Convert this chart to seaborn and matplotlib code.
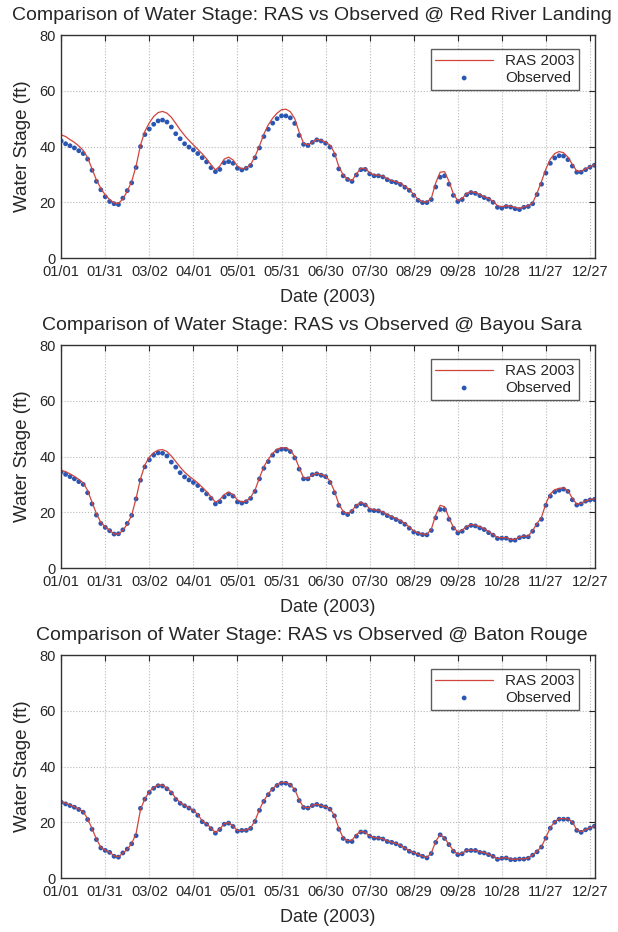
import numpy as np
import pandas as pd
import matplotlib
matplotlib.use("Agg")
import matplotlib.pyplot as plt
import seaborn as sns

# sample days (every 3 days from 01/01/2003)
days = np.arange(0, 364, 3)

tick_days = [0, 30, 60, 90, 120, 150, 180, 210, 240, 270, 300, 330, 360]
tick_labels = ["01/01", "01/31", "03/02", "04/01", "05/01", "05/31", "06/30",
               "07/30", "08/29", "09/28", "10/28", "11/27", "12/27"]

stations = ["Red River Landing", "Bayou Sara", "Baton Rouge"]

# Red River Landing
obs_rrl = [42, 41, 40.3, 39.5, 38.5, 37.5, 35.5, 31.5, 27.5, 24.5, 22, 20.3, 19.5, 19.2, 21.5, 24.2,
           27, 32.5, 40, 44.3, 46.3, 48, 49.2, 49.5, 48.8, 47, 44.6, 42.8, 41, 39.8, 38.8, 37.5,
           36, 34.5, 32.4, 31, 31.8, 34.2, 34.6, 34, 32.2, 31.6, 32.2, 33.2, 36, 39.5, 43.6, 46.2,
           48.4, 50, 51, 51, 50.3, 48.3, 44, 40.8, 40.4, 41.5, 42.4, 42, 41.2, 39.8, 37, 32,
           29.5, 28.2, 27.5, 29.8, 31.7, 31.8, 30.2, 29.5, 29.5, 29.1, 28.1, 27.4, 27.1, 26.4, 25.4, 24.3,
           22.5, 20.7, 19.9, 19.9, 21, 25.5, 29, 29.5, 26.5, 22.5, 20.3, 21, 22.7, 23.5, 23.2, 22.4,
           21.7, 21.1, 20, 18.2, 17.9, 18.5, 18.3, 17.7, 17.4, 18.2, 18.5, 19.5, 22.8, 26.5, 30.5, 34,
           35.9, 36.7, 36.6, 35.3, 33, 30.8, 30.8, 31.7, 32.6, 33.3]
ras_rrl = [44.2, 43.6, 42.5, 41.5, 40.2, 38.6, 36, 32, 28, 25, 22.6, 21, 19.8, 19.6, 21.2, 24,
           27.5, 33, 40.5, 45.5, 48.5, 50.8, 52.2, 52.6, 52, 50.5, 48.3, 46, 44, 42.2, 40.6, 39,
           37.4, 35.6, 33.5, 31.6, 33, 35.5, 36.2, 35.2, 33, 32, 32.4, 33.6, 36.5, 40.2, 44.5, 47.8,
           50.2, 52, 53.2, 53.4, 52.5, 50, 45.2, 41.2, 40.6, 41.6, 42.6, 42.3, 41.6, 40.5, 37.8, 32.8,
           29.8, 28.4, 27.8, 30.2, 32.2, 32.2, 30.6, 29.8, 29.8, 29.4, 28.5, 27.8, 27.4, 26.8, 25.8, 24.6,
           22.8, 21, 20.2, 20.1, 21.5, 27, 30.8, 31, 27.5, 23, 20.6, 21.4, 23.2, 23.8, 23.5, 22.8,
           22, 21.4, 20.4, 18.8, 18.4, 18.8, 18.6, 18.2, 17.8, 18.4, 18.8, 19.8, 23.4, 27.5, 32, 35.5,
           37.5, 38.2, 37.8, 36.2, 33.6, 31.2, 31.2, 32, 32.8, 33.5]

# Bayou Sara
obs_bs = [34.5, 33.6, 32.8, 32, 31, 30, 27, 23, 19, 16, 14.6, 13.4, 12.2, 12.3, 13.7, 16,
          18.9, 24.8, 31.5, 36.3, 38.8, 40.5, 41.3, 41.2, 40.2, 38, 36.2, 34.2, 32.7, 31.6, 30.7, 29.6,
          28, 26.6, 25, 23, 23.8, 25.5, 26.6, 25.8, 23.7, 23.3, 23.8, 25, 27.5, 32, 35.8, 38.2,
          40.5, 42, 42.6, 42.6, 41.8, 39.5, 35.5, 32, 32, 33.5, 33.8, 33.3, 32.8, 30.7, 27, 22.5,
          19.8, 19.2, 20.3, 22.2, 23.1, 22.6, 20.8, 20.6, 20.5, 19.7, 18.8, 18.1, 17.4, 16.6, 15.7, 14.3,
          12.9, 12.4, 12, 11.9, 13.5, 18, 21, 21, 17.5, 14.3, 12.6, 13.2, 14.5, 15.3, 15.1, 14.4,
          13.8, 12.7, 11.8, 10.6, 10.7, 10.7, 10, 10, 10.9, 11.3, 11.2, 13.2, 15.5, 17.5, 22.5, 25.8,
          27.3, 27.9, 28.3, 27.5, 24.5, 22.6, 23, 24, 24.4, 24.6]
ras_bs = [35, 34.6, 33.8, 32.9, 31.8, 30.6, 27.8, 23.6, 19.5, 16.4, 14.8, 13.5, 12.3, 12.2, 13.5, 15.8,
          19, 25, 32, 37, 39.8, 41.4, 42.3, 42.5, 41.8, 40.2, 38.2, 36.2, 34.4, 33, 31.8, 30.5,
          29, 27.4, 25.6, 23.6, 24.5, 26.4, 27.2, 26.4, 24.4, 23.7, 24, 25.4, 28, 32.4, 36.4, 39,
          41.2, 42.6, 43.2, 43.1, 42.3, 40, 36, 32.4, 32.2, 33.4, 34, 33.6, 33, 31.2, 27.6, 23,
          20.2, 19.5, 20.6, 22.6, 23.5, 23, 21.3, 20.9, 20.8, 20.1, 19.2, 18.5, 17.8, 17, 16.1, 14.7,
          13.3, 12.6, 12.2, 12.1, 14, 19, 22.5, 22, 18, 14.6, 13, 13.6, 14.9, 15.6, 15.4, 14.8,
          14.1, 13.1, 12.1, 11, 10.9, 10.9, 10.3, 10.3, 11.1, 11.5, 11.5, 13.5, 16, 18.2, 23.2, 26.6,
          28.1, 28.6, 28.8, 27.8, 25, 22.9, 23.2, 24.1, 24.6, 24.8]

# Baton Rouge
obs_br = [27.2, 26.6, 26, 25.4, 24.6, 23.6, 21, 17.5, 13.8, 10.8, 9.9, 9.2, 7.8, 7.5, 9, 10.4,
          12.3, 15.2, 25, 28.3, 30.7, 32.2, 33.1, 33, 32, 30.5, 28.2, 26.8, 25.9, 25.1, 24.1, 22.5,
          20.2, 19.3, 17.7, 16.1, 17.4, 19.3, 19.7, 18.5, 16.8, 17.1, 17.1, 17.8, 20.3, 24.3, 27.5, 29.9,
          31.8, 33.2, 34, 34, 33.3, 31.6, 27.8, 25.3, 25.1, 26, 26.4, 25.9, 25.5, 24.7, 22.3, 17.5,
          14.2, 13.2, 13.1, 15, 16.5, 16.5, 15, 14.3, 14.3, 14, 13.1, 12.8, 12.3, 11.6, 10.7, 9.6,
          9, 8.4, 7.8, 7.2, 8.8, 12.8, 15.5, 14.2, 12, 9.6, 8.4, 8.7, 9.9, 9.9, 9.9, 9.2,
          9, 8.4, 7.8, 6.7, 7.1, 7.2, 6.6, 6.6, 6.8, 6.8, 7.1, 8.2, 9.4, 11.1, 14.3, 17.9,
          20, 21.1, 21.1, 21.1, 19.9, 17.1, 16.4, 17.3, 17.9, 18.6]
ras_br = [27.5, 26.9, 26.2, 25.6, 24.8, 23.8, 21.3, 17.7, 14, 11, 10, 9.3, 8, 7.6, 8.9, 10.3,
          12.4, 16, 24.6, 28.5, 31, 32.5, 33.4, 33.3, 32.3, 30.8, 28.6, 27.1, 26.1, 25.3, 24.3, 22.8,
          20.5, 19.5, 17.9, 16.3, 17.6, 19.5, 19.9, 18.7, 17, 17.2, 17.2, 18, 20.6, 24.6, 27.8, 30.2,
          32.1, 33.5, 34.3, 34.3, 33.5, 31.8, 28, 25.4, 25.2, 26.1, 26.5, 26, 25.6, 24.8, 22.5, 17.8,
          14.4, 13.4, 13.6, 15.6, 16.8, 16.4, 15.1, 14.5, 14.4, 14.1, 13.3, 12.9, 12.4, 11.7, 10.8, 9.8,
          9.1, 8.5, 7.9, 7.4, 9, 13.2, 15.6, 14.3, 12.1, 9.8, 8.6, 8.9, 10, 10, 10, 9.4,
          9.1, 8.5, 7.9, 6.9, 7.2, 7.3, 6.8, 6.7, 6.9, 6.9, 7.2, 8.3, 9.6, 11.3, 14.6, 18.1,
          20.2, 21.3, 21.3, 21.2, 20.1, 17.3, 16.6, 17.4, 18, 18.7]

obs_all = [obs_rrl, obs_bs, obs_br]
ras_all = [ras_rrl, ras_bs, ras_br]

sns.set_style("white")
plt.rcParams["font.family"] = ["Liberation Sans", "DejaVu Sans"]

fig = plt.figure(figsize=(6.18, 9.32), dpi=100)

# axes boxes (left, bottom, width, height) in figure fraction
tops = [0.9624, 0.6298, 0.2972]
height = 0.2393

for i, station in enumerate(stations):
    ax = fig.add_axes([0.099, tops[i] - height, 0.864, height])
    df = pd.DataFrame({"day": days, "ras": ras_all[i], "obs": obs_all[i]})

    sns.lineplot(data=df, x="day", y="ras", color="#d0443c", linewidth=0.9,
                 label="RAS 2003", ax=ax)
    sns.scatterplot(data=df, x="day", y="obs", color="#2a56b2", s=12,
                    edgecolor="none", label="Observed", ax=ax)

    ax.set_xlim(0, 363.5)
    ax.set_ylim(0, 80)
    ax.set_xticks(tick_days)
    ax.set_xticklabels(tick_labels, fontsize=10.5)
    ax.set_yticks([0, 20, 40, 60, 80])
    ax.tick_params(axis="y", labelsize=10.5, pad=4)
    ax.tick_params(axis="x", pad=5)
    ax.tick_params(direction="in", top=True, right=True, length=4, width=0.8)
    ax.grid(True, linestyle=":", color="#b8b8b8", linewidth=0.8)
    for sp in ax.spines.values():
        sp.set_color("#333333")
        sp.set_linewidth(1.0)

    ax.set_xlabel("Date (2003)", fontsize=13, labelpad=7)
    ax.set_ylabel("Water Stage (ft)", fontsize=13.5, labelpad=6)
    ax.set_title(f"Comparison of Water Stage: RAS vs Observed @ {station}",
                 fontsize=14, pad=11, x=0.47)

    leg = ax.legend(loc="upper right", fontsize=11, frameon=True, fancybox=False,
                    edgecolor="#333333", handlelength=3.8, borderpad=0.3,
                    labelspacing=0.2, bbox_to_anchor=(0.985, 0.97))
    leg.get_frame().set_linewidth(1.0)

fig.savefig("out.png", dpi=100)
plt.close(fig)
